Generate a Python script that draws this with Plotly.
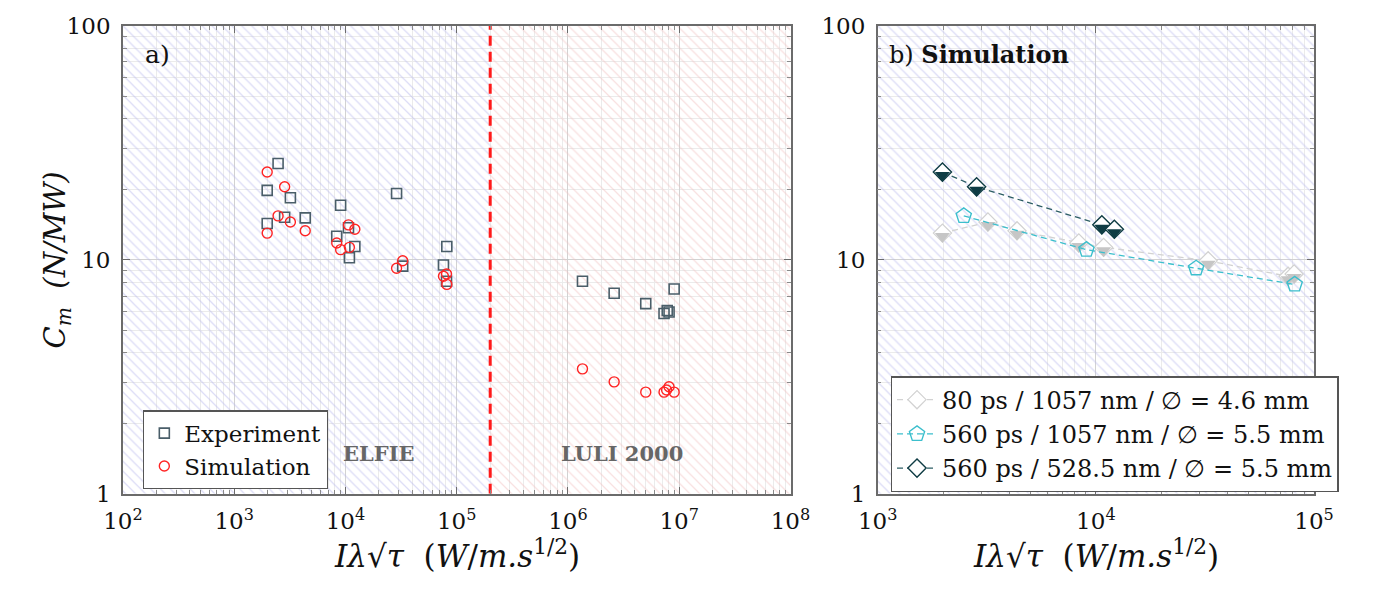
import plotly.graph_objects as go

# ------------------------------------------------------------------ data
# Panel b) simulation series (also drawn as red circles in panel a)
ps80_x = [1980, 3200, 4350, 8350, 10850, 32700, 76000, 81000]
ps80_y = [13.0, 14.5, 13.3, 11.8, 11.3, 9.9, 8.5, 8.7]
ps560_1057_x = [2480, 9050, 28800, 81500]
ps560_1057_y = [15.4, 11.05, 9.2, 7.85]
ps560_528_x = [1980, 2840, 10650, 12150]
ps560_528_y = [23.7, 20.5, 14.1, 13.5]

# Panel a) ELFIE experiment
elfie_exp_x = [1980, 1980, 2480, 2840, 3200, 4350, 8350, 9050, 10650, 10850,
               12150, 28800, 32700, 76000, 81000, 81500]
elfie_exp_y = [19.8, 14.3, 25.8, 15.2, 18.4, 15.1, 12.6, 17.1, 13.7, 10.2,
               11.4, 19.2, 9.4, 9.5, 8.1, 11.4]
# Panel a) LULI 2000 experiment / simulation
luli_exp_x = [1.35e6, 2.6e6, 5.0e6, 7.3e6, 7.8e6, 8.1e6, 9.0e6]
luli_exp_y = [8.1, 7.2, 6.5, 5.9, 6.07, 5.98, 7.5]
luli_sim_x = [1.35e6, 2.6e6, 5.0e6, 7.3e6, 7.7e6, 8.1e6, 9.0e6]
luli_sim_y = [3.42, 3.01, 2.72, 2.72, 2.78, 2.87, 2.72]

# facility regions and separator
elfie_region = [1e2, 2e5]
luli_region = [2e5, 1e8]
right_region = [1e3, 1e5]
cm_region = [1, 100]
separator_x = 2e5

# tick labels
x1_ticks = [1e2, 1e3, 1e4, 1e5, 1e6, 1e7, 1e8]
x1_labels = ["10<sup>2</sup>", "10<sup>3</sup>", "10<sup>4</sup>", "10<sup>5</sup>",
             "10<sup>6</sup>", "10<sup>7</sup>", "10<sup>8</sup>"]
x2_ticks = [1e3, 1e4, 1e5]
x2_labels = ["10<sup>3</sup>", "10<sup>4</sup>", "10<sup>5</sup>"]
y_ticks = [1, 10, 100]
y_labels = ["1", "10", "100"]

legend_labels = ["80 ps / 1057 nm / ∅ = 4.6 mm",
                 "560 ps / 1057 nm / ∅ = 5.5 mm",
                 "560 ps / 528.5 nm / ∅ = 5.5 mm"]

exp_x = elfie_exp_x + luli_exp_x
exp_y = elfie_exp_y + luli_exp_y
sim_x = ps80_x + ps560_1057_x + ps560_528_x + luli_sim_x
sim_y = ps80_y + ps560_1057_y + ps560_528_y + luli_sim_y


def minor_vals(lo, hi):
    return [m * 10 ** e for e in range(lo, hi) for m in range(2, 10)]


# ------------------------------------------------------------------ figure
FONT = "DejaVu Serif"
fig = go.Figure()


def hatch(xr, yr, color, xa, ya):
    fig.add_trace(go.Scatter(
        x=[xr[0], xr[1], xr[1], xr[0], xr[0]], y=[yr[0], yr[0], yr[1], yr[1], yr[0]],
        mode="none", fill="toself", fillcolor="rgba(0,0,0,0)",
        fillpattern=dict(shape="\\", fgcolor=color, bgcolor="rgba(0,0,0,0)",
                         size=7, solidity=0.18),
        xaxis=xa, yaxis=ya, showlegend=False, hoverinfo="skip"))


hatch(elfie_region, cm_region, "#b9b9ee", "x", "y")
hatch(luli_region, cm_region, "#f2c2c2", "x", "y")
hatch(right_region, cm_region, "#b9b9ee", "x2", "y2")

fig.add_trace(go.Scatter(x=[separator_x, separator_x], y=cm_region, mode="lines",
                         line=dict(color="#ff1a1a", width=3, dash="10px,6px"),
                         showlegend=False, hoverinfo="skip", xaxis="x", yaxis="y"))

fig.add_trace(go.Scatter(x=exp_x, y=exp_y, mode="markers", name="Experiment",
                         marker=dict(symbol="square-open", size=10, color="#4a5e69",
                                     line=dict(width=1.6)),
                         legend="legend", xaxis="x", yaxis="y"))
fig.add_trace(go.Scatter(x=sim_x, y=sim_y, mode="markers", name="Simulation",
                         marker=dict(symbol="circle-open", size=10, color="#ff2424",
                                     line=dict(width=1.4)),
                         legend="legend", xaxis="x", yaxis="y"))

# panel b
GRAY_L, GRAY_F = "#d2d2d2", "#c6c6c6"
CYAN = "#3cbfcd"
DARK = "#0f3c44"

fig.add_trace(go.Scatter(x=ps80_x, y=ps80_y, mode="lines+markers", name=legend_labels[0],
                         line=dict(color=GRAY_L, width=1.3, dash="6px,4px"),
                         marker=dict(symbol="diamond", size=14, color="white",
                                     line=dict(color=GRAY_L, width=1.2)),
                         legend="legend2", xaxis="x2", yaxis="y2"))
fig.add_trace(go.Scatter(x=ps80_x, y=ps80_y, mode="markers", showlegend=False, hoverinfo="skip",
                         marker=dict(symbol="triangle-down", size=13, color=GRAY_F,
                                     standoff=3.25, line=dict(width=0)),
                         xaxis="x2", yaxis="y2"))
fig.add_trace(go.Scatter(x=ps560_1057_x, y=ps560_1057_y, mode="lines+markers", name=legend_labels[1],
                         line=dict(color=CYAN, width=1.3, dash="6px,4px"),
                         marker=dict(symbol="pentagon-open", size=16, color=CYAN,
                                     line=dict(width=1.4)),
                         legend="legend2", xaxis="x2", yaxis="y2"))
fig.add_trace(go.Scatter(x=ps560_528_x, y=ps560_528_y, mode="lines+markers", name=legend_labels[2],
                         line=dict(color="#2c5d64", width=1.3, dash="6px,4px"),
                         marker=dict(symbol="diamond", size=14, color="white",
                                     line=dict(color=DARK, width=1.4)),
                         legend="legend2", xaxis="x2", yaxis="y2"))
fig.add_trace(go.Scatter(x=ps560_528_x, y=ps560_528_y, mode="markers", showlegend=False, hoverinfo="skip",
                         marker=dict(symbol="triangle-down", size=13, color=DARK,
                                     standoff=3.25, line=dict(width=0)),
                         xaxis="x2", yaxis="y2"))

W, H = 1380, 591
X1 = [106 / W, 793.5 / W]
X2 = [883.3 / W, 1332.7 / W]
YD = [1 - 503 / H, 1 - 13.3 / H]

axis_common = dict(
    type="log", showline=True, linecolor="#6b6b6b", linewidth=1.6, mirror="allticks",
    ticks="inside", ticklen=7, tickwidth=1, tickcolor="#6b6b6b",
    showgrid=True, gridcolor="#d2d2d2", gridwidth=1.4, zeroline=False,
    tickfont=dict(family=FONT, size=23, color="#111"), ticklabelstandoff=6,
)


def minor(vals):
    return dict(tickmode="array", tickvals=vals, ticks="inside", ticklen=4,
                tickcolor="#8a8a8a", showgrid=True, gridcolor="#ebebeb", gridwidth=1)


fig.update_layout(
    width=W, height=H, margin=dict(l=0, r=0, t=0, b=0),
    paper_bgcolor="white", plot_bgcolor="white",
    font=dict(family=FONT, color="#111"),
    xaxis=dict(axis_common, domain=X1, range=[2, 8], tickvals=x1_ticks, ticktext=x1_labels,
               minor=minor(minor_vals(2, 8)), anchor="y"),
    yaxis=dict(axis_common, domain=YD, range=[0, 2], tickvals=y_ticks, ticktext=y_labels,
               minor=minor(minor_vals(0, 2)), anchor="x"),
    xaxis2=dict(axis_common, domain=X2, range=[3, 5], tickvals=x2_ticks, ticktext=x2_labels,
                minor=minor(minor_vals(3, 5)), anchor="y2"),
    yaxis2=dict(axis_common, domain=YD, range=[0, 2], tickvals=y_ticks, ticktext=y_labels,
                minor=minor(minor_vals(0, 2)), anchor="x2"),
    legend=dict(x=126.7 / W, y=1 - 415.7 / H, xanchor="left", yanchor="top",
                bgcolor="white", bordercolor="#555", borderwidth=1.3,
                font=dict(family=FONT, size=23, color="#111"), itemwidth=30),
    legend2=dict(x=896.7 / W, y=1 - 380 / H, xanchor="left", yanchor="top",
                 bgcolor="white", bordercolor="#555", borderwidth=1.3,
                 font=dict(family=FONT, size=24, color="#111"), itemwidth=40),
    showlegend=True,
)

xt = "<i>Iλ</i>√<i>τ</i>  (<i>W</i>/<i>m.s</i><sup>1/2</sup>)"
ann = [
    dict(text=xt, x=(X1[0] + X1[1]) / 2, y=1 - 566 / H, font=dict(size=31)),
    dict(text=xt, x=(X2[0] + X2[1]) / 2, y=1 - 566 / H, font=dict(size=31)),
    dict(text="<i>C<sub>m</sub></i>  <i>(N/MW)</i>", x=38 / W, y=1 - 258 / H,
         textangle=-90, font=dict(size=29)),
    dict(text="a)", x=127 / W, y=1 - 43 / H, xanchor="left", font=dict(size=25)),
    dict(text="b) <b>Simulation</b>", x=893 / W, y=1 - 43 / H, xanchor="left", font=dict(size=24)),
    dict(text="<b>ELFIE</b>", x=370 / W, y=1 - 461 / H, font=dict(size=21, color="#666")),
    dict(text="<b>LULI 2000</b>", x=620 / W, y=1 - 461 / H, font=dict(size=21, color="#666")),
]
for a in ann:
    a.setdefault("xanchor", "center")
    fig.add_annotation(xref="paper", yref="paper", showarrow=False, yanchor="middle",
                       font=dict(family=FONT, color=a["font"].get("color", "#111"), size=a["font"]["size"]),
                       **{k: v for k, v in a.items() if k != "font"})

fig.write_html("out.html")
